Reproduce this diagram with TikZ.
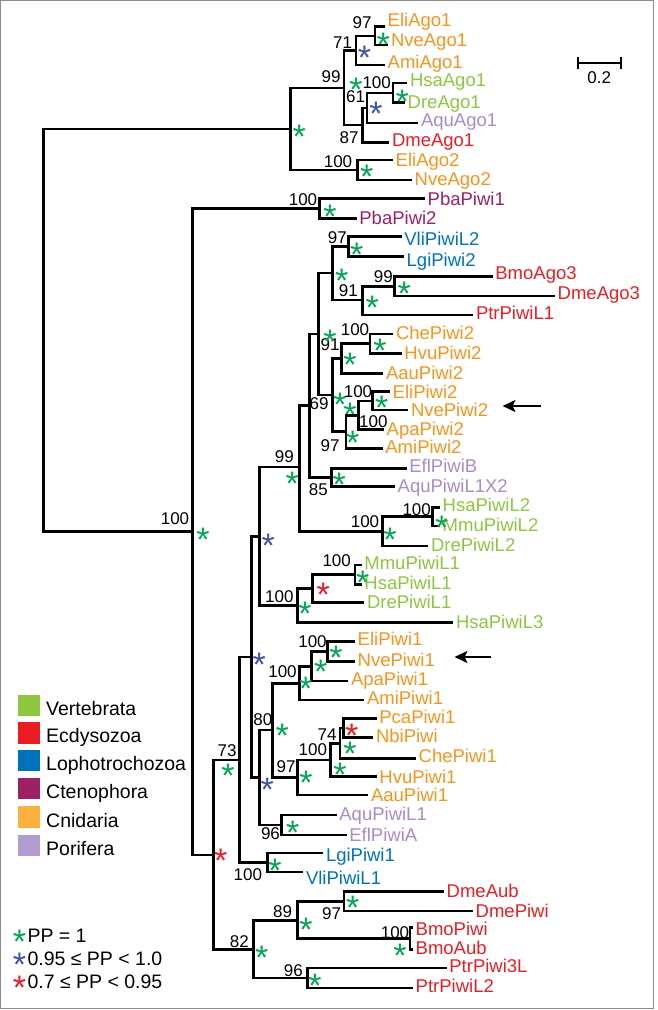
\documentclass[tikz,border=0pt]{standalone}
\usepackage{fontspec}
\setmainfont{Liberation Sans}
\usetikzlibrary{arrows.meta}
\definecolor{cOr}{HTML}{F7941E}
\definecolor{cGr}{HTML}{8DC63F}
\definecolor{cRd}{HTML}{ED1C24}
\definecolor{cBl}{HTML}{0072BC}
\definecolor{cPu}{HTML}{9E1F63}
\definecolor{cLa}{HTML}{A98BC8}
\definecolor{qOr}{HTML}{FBB040}
\definecolor{qLa}{HTML}{B39DD0}
\definecolor{sG}{HTML}{00A651}
\definecolor{sB}{HTML}{3E54A3}
\definecolor{sR}{HTML}{ED1C24}
\newcommand\labfont{\fontsize{18.5}{20}\selectfont}
\newcommand\numfont{\fontsize{17}{19}\selectfont}
\newcommand\legfont{\fontsize{19.5}{21}\selectfont}
\newcommand\starfont{\fontsize{34}{34}\selectfont}
\newcommand\leaf[5]{\coordinate (t#1) at (#3,#4);\node[lf,text=#2,yshift=#5pt] (l#1) at (t#1) {#1};}
\newcommand\bsv[3]{\node[bsn] (b#1) at (#2) {#3};}
\newcommand\pps[3]{\node[st,text=#2] (s#1) at (#3) {*};}
\newcommand\br[2]{\draw[brl] (#1) |- (#2);}
\begin{document}
\begin{tikzpicture}[x=1pt,y=-1pt,
  brl/.style={draw=black,line width=2.6pt},
  lf/.style={font=\labfont,anchor=base west,inner sep=0pt,xshift=2.5pt,yshift=-6.6pt},
  bsn/.style={font=\numfont,inner sep=0pt,anchor=center},
  st/.style={font=\starfont,inner sep=0pt,anchor=base,yshift=-19.6pt},
  sq/.style={minimum size=21.5pt,inner sep=0pt,draw=none},
  legt/.style={font=\legfont,anchor=base west,inner sep=0pt,yshift=-7pt},
  arr/.style={draw=black,line width=2pt,-{Stealth[length=13pt,width=12pt,inset=3pt]}}]
\useasboundingbox (0,0) rectangle (657,1010);
\draw[black!45,line width=1pt] (0.8,0.8) rectangle (653.8,1008.5);
% ---------- internal nodes ----------
\coordinate (R) at (43.5,330);
\coordinate (A) at (290.7,129);
\coordinate (A99) at (344,88);
\coordinate (A71) at (356,50.5);
\coordinate (A97) at (375,36);
\coordinate (A87) at (362.7,125);
\coordinate (A61) at (367,108);
\coordinate (A100) at (393,93);
\coordinate (A2) at (357.3,170);
\coordinate (P) at (192.7,531.5);
\coordinate (Pba) at (319.3,208.3);
\coordinate (Q) at (213.5,855);
\coordinate (N73) at (239.3,760);
\coordinate (NLgi) at (267.3,862.5);
\coordinate (NB2) at (251.7,657);
\coordinate (NB1) at (259.3,536.5);
\coordinate (N99b) at (299.3,467);
\coordinate (N69) at (309.3,405.5);
\coordinate (NSa) at (318.3,334);
\coordinate (NSb) at (332.7,273);
\coordinate (N97c) at (348.3,246.7);
\coordinate (N91a) at (362.7,300);
\coordinate (N99c) at (394.3,286.3);
\coordinate (Y) at (332.7,395);
\coordinate (X) at (341.7,358.5);
\coordinate (NChe2) at (370,343.7);
\coordinate (Z) at (346,431.7);
\coordinate (W) at (358.3,415.2);
\coordinate (NNve2) at (372.7,400.9);
\coordinate (N85) at (331.7,477.5);
\coordinate (NL2) at (382.7,531.5);
\coordinate (NL2a) at (432.3,516.7);
\coordinate (NL1L3) at (297.3,605.5);
\coordinate (NRL1) at (312.7,588.5);
\coordinate (NL1) at (355,574.7);
\coordinate (NB3) at (259.3,777.5);
\coordinate (N80) at (272.7,730);
\coordinate (N100P1) at (299.3,683.3);
\coordinate (NE1b) at (311.7,666.5);
\coordinate (NE1a) at (327.7,651.7);
\coordinate (N97P1) at (297.3,777.5);
\coordinate (N100P1b) at (330.7,760);
\coordinate (N74) at (340,743.3);
\coordinate (NRP) at (343.3,728);
\coordinate (N96A) at (281.7,825);
\coordinate (N82) at (253.3,949.5);
\coordinate (N89) at (297.3,920.5);
\coordinate (N97D) at (344,901.5);
\coordinate (NBmo) at (410,938.5);
\coordinate (N96P) at (307.7,978);
% ---------- leaves ----------
\leaf{EliAgo1}{cOr}{385}{26.7}{6.7}
\leaf{NveAgo1}{cOr}{388.3}{45}{5}
\leaf{AmiAgo1}{cOr}{385}{65}{3.3}
\leaf{HsaAgo1}{cGr}{407.3}{83}{3}
\leaf{DreAgo1}{cGr}{405}{102.7}{1}
\leaf{AquAgo1}{cLa}{418.3}{123}{3}
\leaf{DmeAgo1}{cRd}{389.3}{142.7}{2.7}
\leaf{EliAgo2}{cOr}{393}{160}{0}
\leaf{NveAgo2}{cOr}{412}{180}{1}
\leaf{PbaPiwi1}{cPu}{425}{198.3}{-1}
\leaf{PbaPiwi2}{cPu}{356.7}{218.3}{0}
\leaf{VliPiwiL2}{cBl}{401.7}{236.7}{-2.3}
\leaf{LgiPiwi2}{cBl}{404}{256.7}{-3.3}
\leaf{BmoAgo3}{cRd}{492.7}{276.7}{4}
\leaf{DmeAgo3}{cRd}{555}{296}{2.7}
\leaf{PtrPiwiL1}{cRd}{473.3}{315}{2}
\leaf{ChePiwi2}{cOr}{393.3}{334}{1}
\leaf{HvuPiwi2}{cOr}{401.7}{353.3}{0}
\leaf{AauPiwi2}{cOr}{383.3}{373.3}{0}
\leaf{EliPiwi2}{cOr}{390}{391.7}{0}
\leaf{NvePiwi2}{cOr}{408.3}{410}{0}
\leaf{ApaPiwi2}{cOr}{384}{429.3}{0}
\leaf{AmiPiwi2}{cOr}{382.7}{448.3}{1.5}
\leaf{EflPiwiB}{cLa}{406.7}{468.3}{2}
\leaf{AquPiwiL1X2}{cLa}{395}{486.7}{1}
\leaf{HsaPiwiL2}{cGr}{440}{507.3}{2.3}
\leaf{MmuPiwiL2}{cGr}{440}{526}{1}
\leaf{DrePiwiL2}{cGr}{428.3}{546}{1}
\leaf{MmuPiwiL1}{cGr}{361.7}{565}{1.7}
\leaf{HsaPiwiL1}{cGr}{361.7}{584.3}{1.8}
\leaf{DrePiwiL1}{cGr}{364.3}{602.7}{1}
\leaf{HsaPiwiL3}{cGr}{453.3}{622.3}{0}
\leaf{EliPiwi1}{cOr}{355}{641.7}{3}
\leaf{NvePiwi1}{cOr}{355}{661.7}{1.7}
\leaf{ApaPiwi1}{cOr}{348.3}{681}{1.7}
\leaf{AmiPiwi1}{cOr}{364.3}{700}{1.7}
\leaf{PcaPiwi1}{cOr}{376.7}{718.3}{1.3}
\leaf{NbiPiwi}{cOr}{373.3}{737.3}{1}
\leaf{ChePiwi1}{cOr}{416}{758.3}{2}
\leaf{HvuPiwi1}{cOr}{376.7}{776.7}{0}
\leaf{AauPiwi1}{cOr}{368.3}{795}{0}
\leaf{AquPiwiL1}{cLa}{336.7}{815}{1}
\leaf{EflPiwiA}{cLa}{346.7}{835}{0}
\leaf{LgiPiwi1}{cBl}{323.3}{853}{-2}
\leaf{VliPiwiL1}{cBl}{303.3}{872}{-6}
\leaf{DmeAub}{cRd}{444}{891.7}{1}
\leaf{DmePiwi}{cRd}{473}{911}{0}
\leaf{BmoPiwi}{cRd}{413}{927.5}{-1}
\leaf{BmoAub}{cRd}{413}{949.3}{1.5}
\leaf{PtrPiwi3L}{cRd}{446.7}{968}{2.5}
\leaf{PtrPiwiL2}{cRd}{413}{988}{1.7}
% ---------- branches ----------
\br{R}{A}\br{R}{P}
\br{A}{A99}\br{A}{A2}
\br{A99}{A71}\br{A99}{A87}
\br{A71}{A97}\br{A71}{tAmiAgo1}
\br{A97}{tEliAgo1}\br{A97}{tNveAgo1}
\br{A87}{A61}\br{A87}{tDmeAgo1}
\br{A61}{A100}\br{A61}{tAquAgo1}
\br{A100}{tHsaAgo1}\br{A100}{tDreAgo1}
\br{A2}{tEliAgo2}\br{A2}{tNveAgo2}
\br{P}{Pba}\br{P}{Q}
\br{Pba}{tPbaPiwi1}\br{Pba}{tPbaPiwi2}
\br{Q}{N73}\br{Q}{N82}
\br{N73}{NB2}\br{N73}{NLgi}
\br{NLgi}{tLgiPiwi1}\br{NLgi}{tVliPiwiL1}
\br{NB2}{NB1}\br{NB2}{NB3}
\br{NB1}{N99b}\br{NB1}{NL1L3}
\br{N99b}{N69}\br{N99b}{NL2}
\br{N69}{NSa}\br{N69}{N85}
\br{NSa}{NSb}\br{NSa}{Y}
\br{NSb}{N97c}\br{NSb}{N91a}
\br{N97c}{tVliPiwiL2}\br{N97c}{tLgiPiwi2}
\br{N91a}{N99c}\br{N91a}{tPtrPiwiL1}
\br{N99c}{tBmoAgo3}\br{N99c}{tDmeAgo3}
\br{Y}{X}\br{Y}{Z}
\br{X}{NChe2}\br{X}{tAauPiwi2}
\br{NChe2}{tChePiwi2}\br{NChe2}{tHvuPiwi2}
\br{Z}{W}\br{Z}{tAmiPiwi2}
\br{W}{NNve2}\br{W}{tApaPiwi2}
\br{NNve2}{tEliPiwi2}\br{NNve2}{tNvePiwi2}
\br{N85}{tEflPiwiB}\br{N85}{tAquPiwiL1X2}
\br{NL2}{NL2a}\br{NL2}{tDrePiwiL2}
\br{NL2a}{tHsaPiwiL2}\br{NL2a}{tMmuPiwiL2}
\br{NL1L3}{NRL1}\br{NL1L3}{tHsaPiwiL3}
\br{NRL1}{NL1}\br{NRL1}{tDrePiwiL1}
\br{NL1}{tMmuPiwiL1}\br{NL1}{tHsaPiwiL1}
\br{NB3}{N80}\br{NB3}{N96A}
\br{N80}{N100P1}\br{N80}{N97P1}
\br{N100P1}{NE1b}\br{N100P1}{tAmiPiwi1}
\br{NE1b}{NE1a}\br{NE1b}{tApaPiwi1}
\br{NE1a}{tEliPiwi1}\br{NE1a}{tNvePiwi1}
\br{N97P1}{N100P1b}\br{N97P1}{tAauPiwi1}
\br{N100P1b}{N74}\br{N100P1b}{tHvuPiwi1}
\br{N74}{NRP}\br{N74}{tChePiwi1}
\br{NRP}{tPcaPiwi1}\br{NRP}{tNbiPiwi}
\br{N96A}{tAquPiwiL1}\br{N96A}{tEflPiwiA}
\br{N82}{N89}\br{N82}{N96P}
\br{N89}{N97D}\br{N89}{NBmo}
\br{N97D}{tDmeAub}\br{N97D}{tDmePiwi}
\br{NBmo}{tBmoPiwi}\br{NBmo}{tBmoAub}
\br{N96P}{tPtrPiwi3L}\br{N96P}{tPtrPiwiL2}
% ---------- bootstrap values ----------
\bsv{1}{362,23}{97}
\bsv{2}{342.7,42.7}{71}
\bsv{3}{331,77}{99}
\bsv{4}{376.7,83}{100}
\bsv{5}{355.7,97}{61}
\bsv{6}{349,138}{87}
\bsv{7}{338,162}{100}
\bsv{8}{303,200}{100}
\bsv{9}{337.3,237.3}{97}
\bsv{10}{348.3,290.7}{91}
\bsv{11}{383.3,276.7}{99}
\bsv{12}{355,330}{100}
\bsv{13}{330,345}{91}
\bsv{14}{358,391.7}{100}
\bsv{15}{373.3,421.7}{100}
\bsv{16}{330,446}{97}
\bsv{17}{319,404}{69}
\bsv{18}{284.3,457}{99}
\bsv{19}{318.3,490}{85}
\bsv{20}{365,521.7}{100}
\bsv{21}{416.7,510}{100}
\bsv{22}{336.7,561}{100}
\bsv{23}{279.3,596.7}{100}
\bsv{24}{312.5,641.5}{100}
\bsv{25}{282.5,671.7}{100}
\bsv{26}{262.8,720}{80}
\bsv{27}{327,734.7}{74}
\bsv{28}{312.8,749.2}{100}
\bsv{29}{286,766.7}{97}
\bsv{30}{227.2,750.3}{73}
\bsv{31}{270.5,834}{96}
\bsv{32}{247.8,875}{100}
\bsv{33}{282.7,911.7}{89}
\bsv{34}{331.7,914}{97}
\bsv{35}{395,933}{100}
\bsv{36}{239.3,941.7}{82}
\bsv{37}{293.3,970.8}{96}
\bsv{38}{175,518.5}{100}
% ---------- posterior probability stars ----------
\pps{1}{sG}{299.3,129.3}
\pps{2}{sB}{364.5,50}
\pps{3}{sG}{383.3,36.5}
\pps{4}{sG}{356,81.7}
\pps{5}{sG}{402.3,94}
\pps{6}{sB}{376,106}
\pps{7}{sG}{366.7,169.3}
\pps{8}{sG}{330,209}
\pps{9}{sG}{203,532}
\pps{10}{sG}{356.7,246.7}
\pps{11}{sG}{341.7,272.7}
\pps{12}{sG}{372.3,300}
\pps{13}{sG}{404.3,286}
\pps{14}{sG}{330,334}
\pps{15}{sG}{380,343.3}
\pps{16}{sG}{350,356.7}
\pps{17}{sG}{340,396.7}
\pps{18}{sG}{381.7,400}
\pps{19}{sG}{350,406.7}
\pps{20}{sG}{352.7,435}
\pps{21}{sG}{339.3,476.7}
\pps{22}{sG}{292.3,476}
\pps{23}{sG}{390,531.7}
\pps{24}{sG}{441.7,520}
\pps{25}{sB}{268.3,537.7}
\pps{26}{sR}{323.3,587.3}
\pps{27}{sG}{362.7,575}
\pps{28}{sG}{305,606}
\pps{29}{sG}{336,650}
\pps{30}{sB}{259.3,656.7}
\pps{31}{sG}{320.7,664}
\pps{32}{sG}{305.7,681}
\pps{33}{sG}{282.3,728.3}
\pps{34}{sR}{351.7,728.3}
\pps{35}{sG}{350,746}
\pps{36}{sG}{340,766.7}
\pps{37}{sG}{306,775}
\pps{38}{sB}{267.3,781.7}
\pps{39}{sG}{228,768}
\pps{40}{sG}{292.7,825}
\pps{41}{sR}{220.7,853.3}
\pps{42}{sG}{275,863}
\pps{43}{sG}{352.7,900}
\pps{44}{sG}{306,921.7}
\pps{45}{sG}{400,948}
\pps{46}{sG}{261.7,950}
\pps{47}{sG}{315,978}
% ---------- arrows ----------
\coordinate (a1s) at (540.5,406);
\coordinate (a1e) at (502.5,406);
\coordinate (a2s) at (491,657);
\coordinate (a2e) at (454.5,657);
\draw[arr] (a1s) -- (a1e);
\draw[arr] (a2s) -- (a2e);
% ---------- scale bar ----------
\coordinate (sb1) at (577.5,63);
\coordinate (sb2) at (621,63);
\draw[line width=2.4pt] (sb1) -- (sb2);
\draw[line width=2pt] ([yshift=6pt]sb1) -- ([yshift=-6pt]sb1);
\draw[line width=2pt] ([yshift=6pt]sb2) -- ([yshift=-6pt]sb2);
\node[bsn] (sbl) at (599.3,78) {0.2};
% ---------- legend ----------
\node[sq,fill=cGr] (q1) at (29.2,705.3) {};
\node[sq,fill=cRd] (q2) at (29.2,733) {};
\node[sq,fill=cBl] (q3) at (29.2,760.5) {};
\node[sq,fill=cPu] (q4) at (29.2,788.7) {};
\node[sq,fill=qOr] (q5) at (29.2,817) {};
\node[sq,fill=qLa] (q6) at (29.2,845.3) {};
\node[legt] (g1) at (46,708.3) {Vertebrata};
\node[legt] (g2) at (46,735.7) {Ecdysozoa};
\node[legt] (g3) at (46,763.3) {Lophotrochozoa};
\node[legt] (g4) at (46,791.7) {Ctenophora};
\node[legt] (g5) at (46,820) {Cnidaria};
\node[legt] (g6) at (46,848.3) {Porifera};
\pps{L1}{sG}{19.5,933.7}
\pps{L2}{sB}{19.5,956.7}
\pps{L3}{sR}{19.5,980}
\node[legt] (p1) at (27.3,935) {PP = 1};
\node[legt] (p2) at (27.3,958.3) {0.95 ≤ PP < 1.0};
\node[legt] (p3) at (27.3,981.7) {0.7 ≤ PP < 0.95};
\end{tikzpicture}
\end{document}
